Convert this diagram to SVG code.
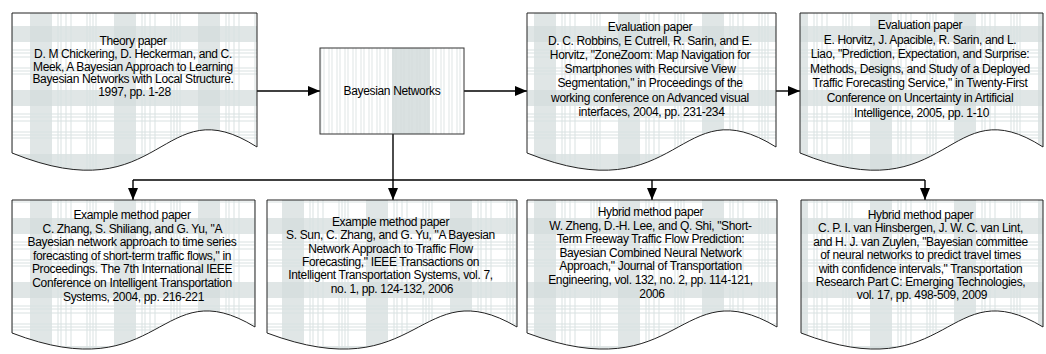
<svg xmlns="http://www.w3.org/2000/svg" width="1046" height="354" viewBox="0 0 1046 354">
  <style>
    .doc { fill: url(#plaid); stroke: #222; stroke-width: 1; }
    .box { stroke: #333; stroke-width: 1; }
    .lbl { font-family: "Liberation Sans", Arial, sans-serif; font-size: 12px; fill: #000; text-anchor: middle; letter-spacing: -0.35px; }
    .conn { fill: none; stroke: #000; stroke-width: 1.4; }
  </style>
  <defs>
    <!-- light plaid fill used by the paper shapes -->
    <pattern id="plaid" width="84" height="64" patternUnits="userSpaceOnUse">
      <rect width="84" height="64" fill="#ffffff"/>
      <rect x="30" y="0" width="22" height="64" fill="#d3dcdc" opacity="0.7"/>
      <rect x="0" y="26" width="84" height="16" fill="#d3dcdc" opacity="0.7"/>
      <g stroke="#d9e2e2" stroke-width="1">
        <path d="M3 0V64M6 0V64M9 0V64M12 0V64M58 0V64M61 0V64M66 0V64M71 0V64"/>
        <path d="M0 4H84M0 7H84M0 10H84M0 50H84M0 53H84M0 57H84"/>
      </g>
    </pattern>
    <!-- vertical stripes for the central box -->
    <pattern id="stripes" width="8" height="6" patternUnits="userSpaceOnUse">
      <rect width="8" height="6" fill="#ffffff"/>
      <path d="M1 0V6M4 0V6" stroke="#dfe6e6" stroke-width="1"/>
    </pattern>
    <marker id="arrow" markerWidth="12" markerHeight="10" refX="12" refY="5" orient="auto" markerUnits="userSpaceOnUse">
      <path d="M0,0 L12,5 L0,10 z" fill="#000"/>
    </marker>
  </defs>

  <!-- connectors -->
  <g id="connectors">
    <path class="conn" d="M257,91 H320" marker-end="url(#arrow)"/>
    <path class="conn" d="M464,91 H527" marker-end="url(#arrow)"/>
    <path class="conn" d="M776,91 H800" marker-end="url(#arrow)"/>
    <path class="conn" d="M393,134 V180"/>
    <path class="conn" d="M133,180 H925"/>
    <path class="conn" d="M133,180 V200" marker-end="url(#arrow)"/>
    <path class="conn" d="M393,180 V200" marker-end="url(#arrow)"/>
    <path class="conn" d="M652,180 V200" marker-end="url(#arrow)"/>
    <path class="conn" d="M925,180 V200" marker-end="url(#arrow)"/>
  </g>

  <!-- central concept -->
  <g id="bayesian-networks">
    <rect x="320" y="48" width="144" height="86" fill="url(#stripes)"/>
    <rect x="392" y="48" width="38" height="86" fill="#d3dcdc" opacity="0.85"/>
    <rect class="box" x="320" y="48" width="144" height="86" fill="none"/>
    <text class="lbl" x="392" y="95">Bayesian Networks</text>
  </g>

  <g id="theory-paper">
    <path class="doc" d="M12,13 h245 v134 c-97,-62 -92,68 -245,6 Z"/>
    <text class="lbl" x="134.5" y="45">
      <tspan x="134.5">Theory paper</tspan>
      <tspan x="134.5" dy="12.8">D. M Chickering, D. Heckerman, and C.</tspan>
      <tspan x="134.5" dy="12.8">Meek, A Bayesian Approach to Learning</tspan>
      <tspan x="134.5" dy="12.8">Bayesian Networks with Local Structure.</tspan>
      <tspan x="134.5" dy="12.8">1997, pp. 1-28</tspan>
    </text>
  </g>

  <g id="evaluation-paper-1">
    <path class="doc" d="M527,13 h249 v134 c-99,-62 -94,68 -249,6 Z"/>
    <text class="lbl" x="651.5" y="31">
      <tspan x="651.5">Evaluation paper</tspan>
      <tspan x="651.5" dy="14.1">D. C. Robbins, E Cutrell, R. Sarin, and E.</tspan>
      <tspan x="651.5" dy="14.1">Horvitz, "ZoneZoom: Map Navigation for</tspan>
      <tspan x="651.5" dy="14.1">Smartphones with Recursive View</tspan>
      <tspan x="651.5" dy="14.1">Segmentation," in Proceedings of the</tspan>
      <tspan x="651.5" dy="14.1">working conference on Advanced visual</tspan>
      <tspan x="651.5" dy="14.1">interfaces, 2004, pp. 231-234</tspan>
    </text>
  </g>

  <g id="evaluation-paper-2">
    <path class="doc" d="M800,13 h243 v134 c-96,-62 -92,68 -243,6 Z"/>
    <text class="lbl" x="921.5" y="29">
      <tspan x="921.5">Evaluation paper</tspan>
      <tspan x="921.5" dy="14.6">E. Horvitz, J. Apacible, R. Sarin, and L.</tspan>
      <tspan x="921.5" dy="14.6">Liao, "Prediction, Expectation, and Surprise:</tspan>
      <tspan x="921.5" dy="14.6">Methods, Designs, and Study of a Deployed</tspan>
      <tspan x="921.5" dy="14.6">Traffic Forecasting Service," in Twenty-First</tspan>
      <tspan x="921.5" dy="14.6">Conference on Uncertainty in Artificial</tspan>
      <tspan x="921.5" dy="14.6">Intelligence, 2005, pp. 1-10</tspan>
    </text>
  </g>

  <g id="example-method-paper-1">
    <path class="doc" d="M12,200 h243 v127 c-96,-58 -92,64 -243,6 Z"/>
    <text class="lbl" x="133.5" y="219">
      <tspan x="133.5">Example method paper</tspan>
      <tspan x="133.5" dy="13.6">C. Zhang, S. Shiliang, and G. Yu, "A</tspan>
      <tspan x="133.5" dy="13.6">Bayesian network approach to time series</tspan>
      <tspan x="133.5" dy="13.6">forecasting of short-term traffic flows," in</tspan>
      <tspan x="133.5" dy="13.6">Proceedings. The 7th International IEEE</tspan>
      <tspan x="133.5" dy="13.6">Conference on Intelligent Transportation</tspan>
      <tspan x="133.5" dy="13.6">Systems, 2004, pp. 216-221</tspan>
    </text>
  </g>

  <g id="example-method-paper-2">
    <path class="doc" d="M267,200 h250 v127 c-99,-58 -95,64 -250,6 Z"/>
    <text class="lbl" x="392" y="226">
      <tspan x="392">Example method paper</tspan>
      <tspan x="392" dy="13.3">S. Sun, C. Zhang, and G. Yu, "A Bayesian</tspan>
      <tspan x="392" dy="13.3">Network Approach to Traffic Flow</tspan>
      <tspan x="392" dy="13.3">Forecasting," IEEE Transactions on</tspan>
      <tspan x="392" dy="13.3">Intelligent Transportation Systems, vol. 7,</tspan>
      <tspan x="392" dy="13.3">no. 1, pp. 124-132, 2006</tspan>
    </text>
  </g>

  <g id="hybrid-method-paper-1">
    <path class="doc" d="M527,200 h250 v127 c-99,-58 -95,64 -250,6 Z"/>
    <text class="lbl" x="652" y="216">
      <tspan x="652">Hybrid method paper</tspan>
      <tspan x="652" dy="13.6">W. Zheng, D.-H. Lee, and Q. Shi, "Short-</tspan>
      <tspan x="652" dy="13.6">Term Freeway Traffic Flow Prediction:</tspan>
      <tspan x="652" dy="13.6">Bayesian Combined Neural Network</tspan>
      <tspan x="652" dy="13.6">Approach," Journal of Transportation</tspan>
      <tspan x="652" dy="13.6">Engineering, vol. 132, no. 2, pp. 114-121,</tspan>
      <tspan x="652" dy="13.6">2006</tspan>
    </text>
  </g>

  <g id="hybrid-method-paper-2">
    <path class="doc" d="M801,200 h242 v127 c-96,-58 -92,64 -242,6 Z"/>
    <text class="lbl" x="922" y="219">
      <tspan x="922">Hybrid method paper</tspan>
      <tspan x="922" dy="13.4">C. P. I. van Hinsbergen, J. W. C. van Lint,</tspan>
      <tspan x="922" dy="13.4">and H. J. van Zuylen, "Bayesian committee</tspan>
      <tspan x="922" dy="13.4">of neural networks to predict travel times</tspan>
      <tspan x="922" dy="13.4">with confidence intervals," Transportation</tspan>
      <tspan x="922" dy="13.4">Research Part C: Emerging Technologies,</tspan>
      <tspan x="922" dy="13.4">vol. 17, pp. 498-509, 2009</tspan>
    </text>
  </g>
</svg>
